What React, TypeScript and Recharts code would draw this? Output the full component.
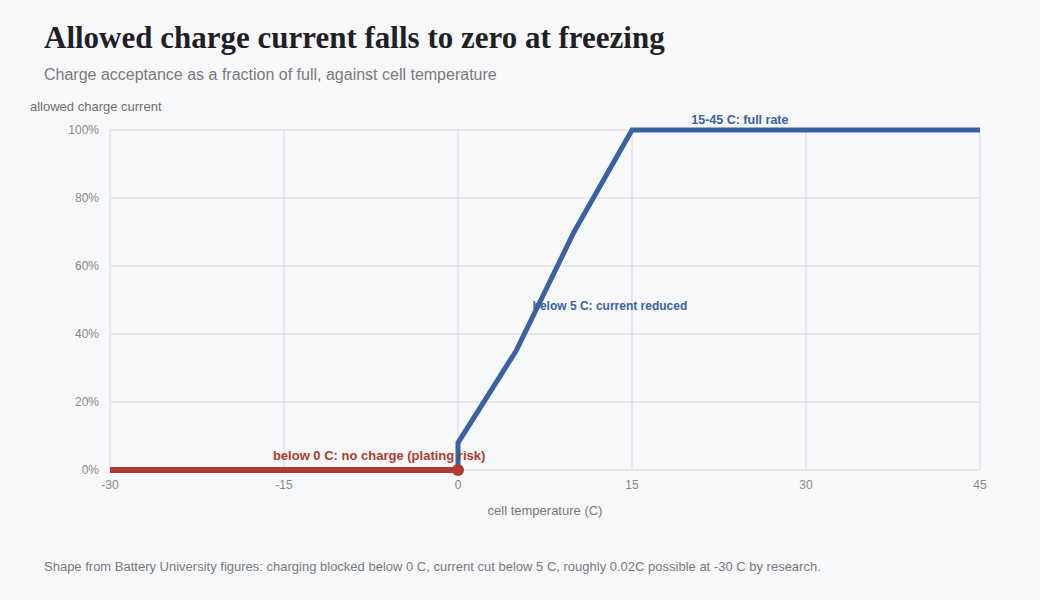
import { LineChart, Line, XAxis, YAxis, CartesianGrid, ReferenceDot } from "recharts";

// temperature (C) -> allowed charge current (% of full rate)
const blockedTemps = [-30, 0];
const blockedRates = [0, 0];
const chargeTemps = [0, 0, 5, 10, 15, 45];
const chargeRates = [0, 8, 35, 70, 100, 100];

const xTicks = [-30, -15, 0, 15, 30, 45];
const yTicks = [0, 20, 40, 60, 80, 100];

const RED = "#b03a2e";
const BLUE = "#3a62a2";
const SANS = "'Liberation Sans', Arial, Helvetica, sans-serif";

const blocked = blockedTemps.map((t, i) => ({ t, v: blockedRates[i] }));
const charging = chargeTemps.map((t, i) => ({ t, v: chargeRates[i] }));

const tickStyle = { fill: "#888", fontSize: 12, fontFamily: SANS };

export default function App() {
  return (
    <div
      style={{
        position: "absolute",
        left: 0,
        top: 0,
        width: 1040,
        height: 600,
        background: "#f7f8fa",
        fontFamily: SANS,
        overflow: "hidden",
      }}
    >
      <div
        style={{
          position: "absolute",
          left: 44,
          top: 20,
          fontFamily: "'Liberation Serif', 'DejaVu Serif', serif",
          fontWeight: 700,
          fontSize: 31,
          color: "#1f1f24",
          whiteSpace: "nowrap",
        }}
      >
        Allowed charge current falls to zero at freezing
      </div>
      <div style={{ position: "absolute", left: 44, top: 66, fontSize: 16, color: "#7a7a7a", whiteSpace: "nowrap" }}>
        Charge acceptance as a fraction of full, against cell temperature
      </div>
      <div style={{ position: "absolute", left: 30, top: 99, fontSize: 13, color: "#6f6f6f" }}>
        allowed charge current
      </div>

      <LineChart
        width={1040}
        height={600}
        margin={{ top: 130, right: 60, bottom: 100, left: 50 }}
        style={{ position: "absolute", left: 0, top: 0 }}
      >
        <CartesianGrid stroke="#d9d9de" strokeWidth={1} />
        <XAxis
          dataKey="t"
          type="number"
          domain={[-30, 45]}
          ticks={xTicks}
          allowDuplicatedCategory={false}
          axisLine={false}
          tickLine={false}
          tickSize={0}
          tickMargin={10}
          height={30}
          tick={tickStyle}
        />
        <YAxis
          type="number"
          domain={[0, 100]}
          ticks={yTicks}
          tickFormatter={(v) => `${v}%`}
          axisLine={false}
          tickLine={false}
          tickSize={0}
          tickMargin={11}
          width={60}
          tick={tickStyle}
        />
        <Line
          data={charging}
          dataKey="v"
          type="linear"
          stroke={BLUE}
          strokeWidth={5}
          dot={false}
          isAnimationActive={false}
        />
        <Line
          data={blocked}
          dataKey="v"
          type="linear"
          stroke={RED}
          strokeWidth={6}
          dot={false}
          isAnimationActive={false}
        />
        <ReferenceDot x={0} y={0} r={6} fill={RED} stroke="none" />
        <ReferenceDot
          x={-6.8}
          y={4.2}
          r={0}
          stroke="none"
          ifOverflow="visible"
          label={{ value: "below 0 C: no charge (plating risk)", position: "center", fill: RED, fontSize: 13, fontWeight: 700, fontFamily: SANS }}
        />
        <ReferenceDot
          x={13.1}
          y={48.2}
          r={0}
          stroke="none"
          ifOverflow="visible"
          label={{ value: "below 5 C: current reduced", position: "center", fill: BLUE, fontSize: 12, fontWeight: 700, fontFamily: SANS }}
        />
        <ReferenceDot
          x={24.3}
          y={103.2}
          r={0}
          stroke="none"
          ifOverflow="visible"
          label={{ value: "15-45 C: full rate", position: "center", fill: BLUE, fontSize: 12.5, fontWeight: 700, fontFamily: SANS }}
        />
      </LineChart>

      <div style={{ position: "absolute", left: 0, width: 1090, top: 503, textAlign: "center", fontSize: 13, color: "#777" }}>
        cell temperature (C)
      </div>
      <div style={{ position: "absolute", left: 44, top: 559, fontSize: 13, color: "#7a7a7a", whiteSpace: "nowrap" }}>
        Shape from Battery University figures: charging blocked below 0 C, current cut below 5 C, roughly 0.02C possible at -30 C by research.
      </div>
    </div>
  );
}
